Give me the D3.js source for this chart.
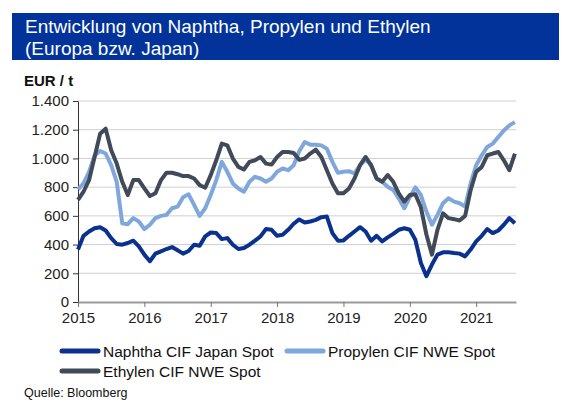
<!DOCTYPE html>
<html>
<head>
<meta charset="utf-8">
<script src="https://cdn.jsdelivr.net/npm/d3@7"></script>
<style>
  body { margin: 0; background: #fff; }
  svg { font-family: "Liberation Sans", Arial, sans-serif; }
</style>
</head>
<body>
<svg width="571" height="417"></svg>
<script>
// monthly values, Jan 2015 - Aug 2021 (EUR / t)
const startYear = 2015;
const naphtha = [
  365, 461, 491, 514, 521, 498, 445, 404, 399, 411, 427, 388,
  330, 284, 337, 353, 369, 383, 360, 337, 355, 399, 392, 457,
  484, 480, 438, 445, 399, 369, 376, 399, 427, 457, 508, 503,
  461, 468, 503, 545, 575, 554, 561, 572, 591, 595, 480, 427,
  429, 461, 491, 521, 491, 427, 461, 422, 450, 475, 503, 514,
  503, 434, 272, 180, 261, 330, 346, 346, 341, 337, 318, 365,
  422, 461, 508, 480, 498, 538, 584, 549
];
const propylen = [
  784, 826, 907, 1020, 1052, 1034, 953, 837, 549, 542, 584, 561,
  508, 538, 584, 600, 607, 653, 664, 729, 750, 676, 600, 653,
  745, 849, 976, 907, 826, 791, 768, 837, 872, 860, 837, 860,
  907, 930, 918, 953, 1050, 1114, 1096, 1096, 1091, 1068, 976, 900,
  907, 911, 895, 953, 992, 953, 860, 837, 803, 780, 722, 653,
  730, 798, 745, 630, 538, 607, 688, 722, 699, 688, 664, 826,
  953, 1022, 1080, 1103, 1149, 1195, 1230, 1253
];
const ethylen = [
  711, 768, 849, 1010, 1172, 1207, 1057, 964, 837, 745, 849, 849,
  791, 738, 757, 849, 900, 900, 890, 877, 877, 860, 814, 796,
  884, 987, 1103, 1091, 999, 941, 923, 976, 987, 1010, 964, 957,
  1010, 1045, 1045, 1038, 990, 999, 1034, 1061, 1010, 918, 826, 757,
  757, 791, 860, 953, 1010, 953, 860, 837, 884, 837, 757, 699,
  745, 750, 660, 470, 330, 503, 618, 584, 577, 568, 600, 780,
  907, 941, 1022, 1034, 1045, 987, 918, 1034
];
const seriesNames = ["Naphtha CIF Japan Spot", "Propylen CIF NWE Spot", "Ethylen CIF NWE Spot"];
const seriesColors = ["#0b318f", "#7fa7dc", "#404a58"];
const yTicks = [0, 200, 400, 600, 800, 1000, 1200, 1400];
const xTicks = [2015, 2016, 2017, 2018, 2019, 2020, 2021];

const titleLines = ["Entwicklung von Naphtha, Propylen und Ethylen", "(Europa bzw. Japan)"];
const unitLabel = "EUR / t";
const sourceLabel = "Quelle: Bloomberg";

const de = d3.formatLocale({ decimal: ",", thousands: ".", grouping: [3], currency: ["", " €"] });
const fmt = de.format(",d");

let svg = d3.select("svg");

// Title bar
svg.append("rect")
  .attr("x", 12).attr("y", 13)
  .attr("width", 547).attr("height", 47)
  .attr("fill", "#02339b");

svg.append("g")
  .selectAll("text")
  .data(titleLines)
  .enter()
  .append("text")
  .attr("x", 25)
  .attr("y", (d, i) => 33 + i * 22)
  .attr("fill", "#fff")
  .style("font-size", "19px")
  .text((d) => d);

svg.append("text")
  .attr("x", 24).attr("y", 86)
  .style("font-size", "15px")
  .style("font-weight", "bold")
  .attr("fill", "#111")
  .text(unitLabel);

// Scales
let x = d3.scaleLinear().domain([2015, 2021.6]).range([78, 516]);
let y = d3.scaleLinear().domain([0, 1400]).range([302, 101]);

// Gridlines
svg.append("g")
  .selectAll("line")
  .data(yTicks.filter((d) => d > 0))
  .enter()
  .append("line")
  .attr("x1", x(2015)).attr("x2", x(2021.6))
  .attr("y1", (d) => y(d)).attr("y2", (d) => y(d))
  .attr("stroke", "#cfcfcf")
  .attr("stroke-width", 1);

// Axes
let yAxis = d3.axisLeft(y).tickValues(yTicks).tickFormat(fmt).tickSizeInner(5).tickSizeOuter(0).tickPadding(4);
let gy = svg.append("g").attr("transform", "translate(" + x(2015) + ",0)").call(yAxis);
gy.select(".domain").attr("stroke", "#333");
gy.selectAll(".tick line").attr("stroke", "#333");
gy.selectAll("text").style("font-size", "15px").attr("fill", "#222").attr("font-family", null);

let xAxis = d3.axisBottom(x).tickValues(xTicks).tickFormat(d3.format("d")).tickSizeInner(5).tickSizeOuter(0).tickPadding(5);
let gx = svg.append("g").attr("transform", "translate(0," + y(0) + ")").call(xAxis);
gx.select(".domain").attr("stroke", "#9a9a9a").attr("stroke-width", 2);
gx.selectAll(".tick line").attr("stroke", "#777");
gx.selectAll("text").style("font-size", "15px").attr("fill", "#222").attr("font-family", null);

// Lines
let line = d3.line()
  .x((d, i) => x(startYear + i / 12))
  .y((d) => y(d));

const allSeries = [naphtha, propylen, ethylen];
const drawOrder = [1, 0, 2];
drawOrder.forEach((k) => {
  svg.append("path")
    .datum(allSeries[k])
    .attr("fill", "none")
    .attr("stroke", seriesColors[k])
    .attr("stroke-width", 4)
    .attr("stroke-linejoin", "round")
    .attr("d", line);
});

// Legend
const legendPos = [[60, 351], [285, 351], [60, 371]];
let legend = svg.append("g")
  .selectAll("g")
  .data(seriesNames)
  .enter()
  .append("g")
  .attr("transform", (d, i) => "translate(" + legendPos[i][0] + "," + legendPos[i][1] + ")");

legend.append("line")
  .attr("x1", 2).attr("x2", 38)
  .attr("y1", 0).attr("y2", 0)
  .attr("stroke", (d, i) => seriesColors[i])
  .attr("stroke-width", 5)
  .attr("stroke-linecap", "round");

legend.append("text")
  .attr("x", 43).attr("y", 5.5)
  .style("font-size", "15.5px")
  .attr("fill", "#111")
  .text((d) => d);

svg.append("text")
  .attr("x", 24).attr("y", 397)
  .style("font-size", "12.5px")
  .attr("fill", "#111")
  .text(sourceLabel);
</script>
</body>
</html>
